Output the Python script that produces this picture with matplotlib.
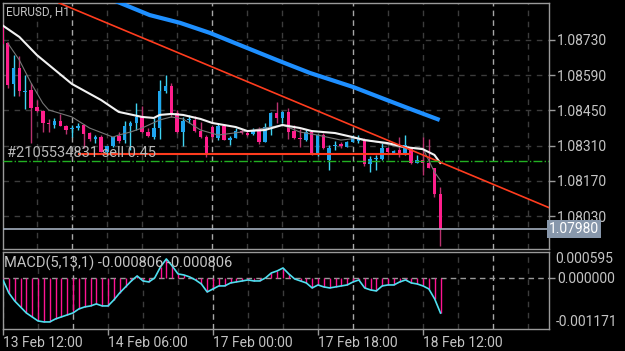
import matplotlib.pyplot as plt
from matplotlib.transforms import blended_transform_factory

plt.rcParams['font.family'] = ['Roboto', 'DejaVu Sans']

# --- candles (EURUSD H1, 13 Feb 12:00 -> 18 Feb 15:00) ---
opens = [1.08790, 1.08718, 1.08555, 1.08619, 1.08523, 1.08531, 1.08463, 1.08447, 1.08400, 1.08392,
         1.08408, 1.08388, 1.08376, 1.08380, 1.08392, 1.08360, 1.08336, 1.08344, 1.08284, 1.08308,
         1.08348, 1.08332, 1.08388, 1.08400, 1.08424, 1.08364, 1.08344, 1.08380, 1.08527, 1.08547,
         1.08439, 1.08364, 1.08412, 1.08412, 1.08368, 1.08344, 1.08384, 1.08340, 1.08388, 1.08332,
         1.08340, 1.08368, 1.08360, 1.08356, 1.08376, 1.08324, 1.08384, 1.08439, 1.08420, 1.08443,
         1.08368, 1.08340, 1.08332, 1.08364, 1.08272, 1.08352, 1.08252, 1.08308, 1.08316, 1.08304,
         1.08324, 1.08328, 1.08336, 1.08236, 1.08256, 1.08256, 1.08300, 1.08280, 1.08292, 1.08272,
         1.08300, 1.08240, 1.08252, 1.08240, 1.08221, 1.08117]
highs = [1.08802, 1.08722, 1.08670, 1.08666, 1.08591, 1.08559, 1.08491, 1.08451, 1.08416, 1.08420,
         1.08435, 1.08392, 1.08392, 1.08400, 1.08396, 1.08364, 1.08352, 1.08352, 1.08308, 1.08344,
         1.08364, 1.08408, 1.08408, 1.08479, 1.08467, 1.08380, 1.08420, 1.08571, 1.08591, 1.08559,
         1.08451, 1.08424, 1.08431, 1.08428, 1.08404, 1.08352, 1.08392, 1.08396, 1.08396, 1.08348,
         1.08380, 1.08376, 1.08368, 1.08380, 1.08384, 1.08400, 1.08443, 1.08483, 1.08447, 1.08459,
         1.08392, 1.08376, 1.08376, 1.08368, 1.08356, 1.08360, 1.08312, 1.08328, 1.08324, 1.08328,
         1.08352, 1.08352, 1.08340, 1.08268, 1.08272, 1.08320, 1.08304, 1.08292, 1.08344, 1.08352,
         1.08304, 1.08272, 1.08344, 1.08336, 1.08221, 1.08145]
lows = [1.08710, 1.08539, 1.08507, 1.08507, 1.08455, 1.08320, 1.08443, 1.08364, 1.08364, 1.08380,
        1.08388, 1.08356, 1.08344, 1.08372, 1.08300, 1.08328, 1.08320, 1.08284, 1.08280, 1.08304,
        1.08320, 1.08320, 1.08292, 1.08372, 1.08360, 1.08344, 1.08336, 1.08336, 1.08519, 1.08424,
        1.08360, 1.08308, 1.08400, 1.08364, 1.08340, 1.08264, 1.08336, 1.08332, 1.08332, 1.08312,
        1.08340, 1.08356, 1.08348, 1.08352, 1.08316, 1.08324, 1.08352, 1.08400, 1.08400, 1.08336,
        1.08336, 1.08304, 1.08328, 1.08272, 1.08268, 1.08296, 1.08213, 1.08292, 1.08300, 1.08304,
        1.08324, 1.08320, 1.08229, 1.08205, 1.08213, 1.08252, 1.08280, 1.08276, 1.08264, 1.08272,
        1.08236, 1.08240, 1.08193, 1.08221, 1.08105, 1.07910]
closes = [1.08714, 1.08551, 1.08619, 1.08527, 1.08527, 1.08459, 1.08447, 1.08400, 1.08396, 1.08408,
          1.08388, 1.08372, 1.08380, 1.08388, 1.08356, 1.08336, 1.08344, 1.08284, 1.08308, 1.08344,
          1.08328, 1.08388, 1.08400, 1.08424, 1.08364, 1.08348, 1.08380, 1.08527, 1.08547, 1.08431,
          1.08364, 1.08408, 1.08416, 1.08368, 1.08344, 1.08272, 1.08344, 1.08388, 1.08332, 1.08340,
          1.08368, 1.08360, 1.08352, 1.08372, 1.08324, 1.08384, 1.08439, 1.08420, 1.08443, 1.08364,
          1.08340, 1.08336, 1.08364, 1.08272, 1.08352, 1.08300, 1.08300, 1.08312, 1.08308, 1.08324,
          1.08344, 1.08340, 1.08236, 1.08256, 1.08260, 1.08300, 1.08284, 1.08288, 1.08272, 1.08312,
          1.08240, 1.08252, 1.08240, 1.08221, 1.08117, 1.07980]

# moving averages, read at a few bars (bar index, price)
white_ma_bars = [0, 3, 6, 12, 17, 20, 24, 26, 27, 29, 31, 34, 36, 40, 42, 45, 48, 49, 51, 53, 57, 60, 62, 66, 69, 72, 74, 75]
white_ma = [1.08790, 1.08742, 1.08670, 1.08555, 1.08491, 1.08444, 1.08424, 1.08420, 1.08432, 1.08436,
            1.08432, 1.08416, 1.08400, 1.08384, 1.08368, 1.08372, 1.08392, 1.08388, 1.08380, 1.08368,
            1.08360, 1.08344, 1.08332, 1.08320, 1.08304, 1.08296, 1.08273, 1.08241]
gray_ma_bars = [1, 3, 5, 7, 8, 12, 15, 19, 20, 22, 24, 27, 29, 31, 34, 37, 41, 44, 48, 51, 54, 58, 61, 65, 68, 72, 73, 74, 75]
gray_ma = [1.08718, 1.08650, 1.08559, 1.08479, 1.08452, 1.08424, 1.08380, 1.08344, 1.08352, 1.08364,
           1.08380, 1.08412, 1.08424, 1.08416, 1.08372, 1.08352, 1.08364, 1.08376, 1.08392, 1.08364,
           1.08352, 1.08332, 1.08340, 1.08320, 1.08304, 1.08300, 1.08253, 1.08205, 1.08173]
blue_ma_bars = [17, 19, 25.3, 30.5, 35.6, 47.1, 52.7, 60.1, 65.9, 70.3, 74.9]
blue_ma = [1.08905, 1.08889, 1.08829, 1.08798, 1.08758, 1.08650, 1.08599, 1.08543, 1.08491, 1.08452, 1.08412]

# objects on the chart
trend_bars = [10, 75]
trend_prices = [1.08875, 1.08244]
order_price = 1.08277
order_span = [13, 70]
order_label = "#2105534831 sell 0.45"
stop_price = 1.08247
bid_price = 1.07980

price_ticks = [1.08730, 1.08590, 1.08450, 1.08310, 1.08170, 1.08030]

# MACD(5,13,1) per bar
macd = [-0.000046, -0.000344, -0.000528, -0.000665, -0.000803, -0.000894, -0.000986, -0.001009, -0.001009, -0.000940,
        -0.000894, -0.000849, -0.000803, -0.000711, -0.000665, -0.000642, -0.000596, -0.000642, -0.000642, -0.000505,
        -0.000344, -0.000206, -0.000069, 0.000046, -0.000069, -0.000092, 0.000000, 0.000252, 0.000436, 0.000275,
        0.000092, 0.000069, 0.000023, -0.000046, -0.000138, -0.000321, -0.000252, -0.000183, -0.000183, -0.000115,
        -0.000092, -0.000069, -0.000046, -0.000069, -0.000069, 0.000000, 0.000115, 0.000161, 0.000229, 0.000092,
        -0.000023, -0.000069, -0.000115, -0.000229, -0.000161, -0.000206, -0.000229, -0.000206, -0.000183, -0.000161,
        -0.000092, -0.000046, -0.000229, -0.000275, -0.000298, -0.000183, -0.000161, -0.000161, -0.000092, -0.000046,
        -0.000115, -0.000138, -0.000183, -0.000252, -0.000482, -0.000806]
macd_max = 0.000595
macd_min = -0.001171

time_ticks = [0, 18, 36, 54, 72]
time_labels = ["13 Feb 12:00", "14 Feb 06:00", "17 Feb 00:00", "17 Feb 18:00", "18 Feb 12:00"]
day_starts = [12, 36, 60, 84]

# --- figure, laid out in pixels ---
W, H = 625, 351
fig = plt.figure(figsize=(W / 100, H / 100), dpi=100, facecolor="black")


def px_axes(left, top, right, bottom):
    a = fig.add_axes([left / W, 1 - bottom / H, (right - left) / W, (bottom - top) / H])
    a.set_facecolor("black")
    for s in a.spines.values():
        s.set_color("#9a9a9a")
        s.set_linewidth(1)
    return a


ax = px_axes(3, 3, 549, 249)
axm = px_axes(3, 252, 549, 329)

text_color = "#c4c4c4"
grid_dark = "#3c3c3c"
grid_sep = "#a8a8a8"

for a in (ax, axm):
    a.set_xlim(0.2, 93.6)
    # vertical grid every 6 bars, day separators brighter
    for i in range(0, 94, 6):
        if i in day_starts:
            a.axvline(i, color=grid_sep, lw=1, dashes=(4, 3), zorder=1)
        else:
            a.axvline(i, color=grid_dark, lw=1, dashes=(4, 4), zorder=1)

# --- main price panel ---
ax.set_ylim(1.07899, 1.08877)
for p in price_ticks:
    ax.axhline(p, color=grid_dark, lw=1, dashes=(4, 4), zorder=1)

bars = range(len(opens))
for i in bars:
    o, h, l, c = opens[i], highs[i], lows[i], closes[i]
    up = c >= o
    body_col = "#1fa6ee" if up else "#ff1e8c"
    wick_col = "#3fd4f2" if up else "#b8326f"
    ax.vlines(i, l, h, color=wick_col, lw=1, zorder=3)
    ax.bar(i, max(abs(c - o), 0.00002), bottom=min(o, c), width=0.6,
           color=body_col, zorder=4)

ax.plot(blue_ma_bars, blue_ma, color="#1e8fff", lw=3, zorder=5, solid_capstyle="butt")
ax.plot(gray_ma_bars, gray_ma, color="#767676", lw=0.8, zorder=5)
ax.plot(white_ma_bars, white_ma, color="#f2f2f2", lw=1.5, zorder=6)

ax.axline((trend_bars[0], trend_prices[0]), (trend_bars[1], trend_prices[1]),
          color="#ff3c1e", lw=1.2, zorder=6)
ax.hlines(order_price, order_span[0], order_span[1], color="#ff3c1e", lw=1.5, zorder=6)
ax.axhline(stop_price, color="#22b022", lw=1, ls="-.", zorder=6)
ax.axhline(bid_price, color="#a3aebd", lw=1.2, zorder=6)

ax.text(0.9, order_price + 0.00005, order_label, color="#b8b8b8", fontsize=10.5,
        va="center", ha="left", zorder=7)
fig.text(6 / W, 1 - 12 / H, "EURUSD, H1", color=text_color, fontsize=8.5, va="center")

ax.yaxis.tick_right()
ax.set_yticks(price_ticks)
ax.set_yticklabels([f"{p:.5f}" for p in price_ticks])
ax.tick_params(axis="y", colors="#9a9a9a", labelcolor=text_color, labelsize=10,
               length=4, width=1, pad=2)
ax.set_xticks([])

# bid price tag on the right scale
trans = blended_transform_factory(ax.transAxes, ax.transData)
ax.text(1.0, bid_price - 0.00002, f"{bid_price:.5f}", transform=trans, color="white", fontsize=10,
        ha="left", va="center", clip_on=False, zorder=8,
        bbox=dict(boxstyle="square,pad=0.12", fc="#8797ab", ec="none"))

# --- MACD panel ---
axm.set_ylim(macd_min, macd_max)
axm.axhline(0, color="#9a9a9a", lw=1, dashes=(4, 3), zorder=2)
axm.vlines(list(bars), 0, macd, color="#ff1493", lw=1, zorder=3)
axm.plot(list(bars), macd, color="#4ee0f0", lw=1.2, zorder=4)

axm.yaxis.tick_right()
axm.set_yticks([0])
axm.set_yticklabels(["0.000000"])
axm.tick_params(axis="y", colors="#9a9a9a", labelcolor=text_color, labelsize=10,
                length=4, width=1, pad=2)
mtrans = blended_transform_factory(axm.transAxes, axm.transData)
axm.text(1.012, macd_max, f"{macd_max:.6f}", transform=mtrans, color=text_color,
         fontsize=10, ha="left", va="top", clip_on=False)
axm.text(1.012, macd_min, f"{macd_min:.6f}", transform=mtrans, color=text_color,
         fontsize=10, ha="left", va="bottom", clip_on=False)

fig.text(4 / W, 1 - 263 / H, f"MACD(5,13,1) {macd[-1]:.6f} {macd[-1]:.6f}",
         color=text_color, fontsize=10.5, va="center")

axm.set_xticks(time_ticks)
axm.set_xticklabels(time_labels, ha="left")
axm.tick_params(axis="x", colors="#9a9a9a", labelcolor=text_color, labelsize=10,
                length=4, width=1, pad=1)

fig.savefig("out.png", dpi=100, facecolor="black")
